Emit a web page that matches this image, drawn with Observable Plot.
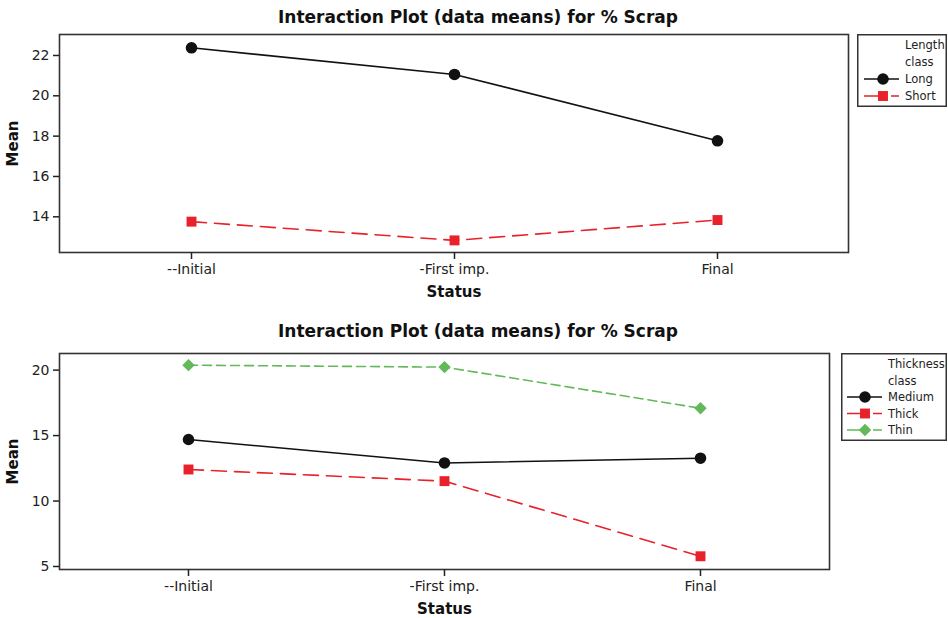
<!DOCTYPE html>
<html>
<head>
<meta charset="utf-8">
<script src="https://cdn.jsdelivr.net/npm/d3@7"></script>
<script src="https://cdn.jsdelivr.net/npm/@observablehq/plot@0.6"></script>
<style>
  html, body { margin: 0; padding: 0; background: #fff; }
  #wrap { position: relative; width: 948px; height: 618px; overflow: hidden; font-family: "DejaVu Sans", sans-serif; }
  .panel { position: absolute; left: 0; }
  .title { position: absolute; left: 478px; transform: translateX(-50%); white-space: nowrap;
           font-weight: bold; font-size: 17px; color: #111; }
  .legend { position: absolute; }
  svg g[aria-label="x-axis label"] text, svg g[aria-label="y-axis label"] text { font-weight: bold; font-size: 15px; fill: #111; }
</style>
</head>
<body>
<div id="wrap"></div>
<script>
// ---- data ----
const statuses = ["--Initial", "-First imp.", "Final"];
const titleText = "Interaction Plot (data means) for % Scrap";

const lengthClasses = ["Long", "Short"];
const longMeans = [22.38, 21.06, 17.77];
const shortMeans = [13.76, 12.83, 13.84];
const topTicks = [14, 16, 18, 20, 22];

const thicknessClasses = ["Medium", "Thick", "Thin"];
const mediumMeans = [14.70, 12.91, 13.27];
const thickMeans = [12.41, 11.52, 5.78];
const thinMeans = [20.38, 20.23, 17.09];
const bottomTicks = [5, 10, 15, 20];

// ---- styles ----
const BLACK = "#111", RED = "#e8212b", GREEN = "#63b95a";
const styleOf = {
  Long:   {color: BLACK, dash: null, symbol: "circle", r: 5.8},
  Short:  {color: RED, dash: "15,8", symbol: "square", r: 5.6},
  Medium: {color: BLACK, dash: null, symbol: "circle", r: 5.8},
  Thick:  {color: RED, dash: "15,8", symbol: "square", r: 5.6},
  Thin:   {color: GREEN, dash: "9,5", symbol: "diamond2", r: 5.6}
};

const wrap = document.getElementById("wrap");

function rowsFor(classes, valueLists) {
  return classes.map((c, i) => ({cls: c, rows: statuses.map((s, j) => ({status: s, mean: valueLists[i][j], cls: c}))}));
}

function panel({top, height, marginTop, marginBottom, marginRight, domain, ticks, groups}) {
  const marks = [
    Plot.frame({stroke: "#333", strokeWidth: 1.6}),
    Plot.axisY({ticks, tickSize: 6, tickPadding: 4, strokeWidth: 1.5, fontSize: 14, fill: "#222",
                label: "Mean", labelAnchor: "center", labelArrow: "none", labelOffset: 52}),
    Plot.axisX({tickSize: 7, tickPadding: 5, strokeWidth: 1.5, fontSize: 14, fill: "#222",
                label: "Status", labelAnchor: "center", labelArrow: "none", labelOffset: 44})
  ];
  for (const g of groups) {
    const st = styleOf[g.cls];
    marks.push(Plot.line(g.rows, {x: "status", y: "mean", stroke: st.color, strokeWidth: 1.6, strokeDasharray: st.dash || undefined}));
    marks.push(Plot.dot(g.rows, {x: "status", y: "mean", symbol: () => st.symbol, r: st.r, fill: st.color, stroke: "none"}));
  }
  const chart = Plot.plot({
    width: 948, height, marginLeft: 59, marginRight, marginTop, marginBottom,
    x: {type: "point", domain: statuses, padding: 0.5},
    y: {domain},
    symbol: {type: "identity"},
    style: {fontFamily: "DejaVu Sans, sans-serif", fontSize: "14px", color: "#222", background: "transparent", overflow: "visible"},
    marks
  });
  chart.classList.add("panel");
  chart.style.top = top + "px";
  wrap.appendChild(chart);
}

function title(y) {
  const d = document.createElement("div");
  d.className = "title";
  d.textContent = titleText;
  d.style.top = y + "px";
  wrap.appendChild(d);
}

function legend({left, top, width, height, heading, classes, textX, firstRow, rowStep, swatchX0, swatchX1, markerX}) {
  const svg = d3.create("svg").attr("class", "legend").attr("width", width).attr("height", height)
    .style("left", left + "px").style("top", top + "px")
    .style("font-family", "DejaVu Sans, sans-serif").style("font-size", "11.5px");
  svg.append("rect").attr("x", 0.75).attr("y", 0.75).attr("width", width - 1.5).attr("height", height - 1.5)
    .attr("fill", "#fff").attr("stroke", "#333").attr("stroke-width", 1.5);
  const lines = [...heading, ...classes];
  lines.forEach((t, i) => {
    const cy = firstRow + i * rowStep;
    svg.append("text").attr("x", textX).attr("y", cy).attr("dy", "0.35em").attr("fill", "#222").text(t);
    if (i >= heading.length) {
      const st = styleOf[t];
      const solid = markerX - swatchX0;
      svg.append("line").attr("x1", swatchX0).attr("x2", swatchX1).attr("y1", cy).attr("y2", cy)
        .attr("stroke", st.color).attr("stroke-width", 1.5)
        .attr("stroke-dasharray", st.dash ? `${solid},8,20` : null);
      const sym = {circle: d3.symbolCircle, square: d3.symbolSquare, diamond2: d3.symbolDiamond2}[st.symbol];
      svg.append("path").attr("transform", `translate(${markerX},${cy})`)
        .attr("d", d3.symbol(sym, Math.PI * st.r * st.r)()).attr("fill", st.color);
    }
  });
  wrap.appendChild(svg.node());
}

// top panel
title(7);
panel({top: 0, height: 310, marginTop: 34, marginBottom: 58, marginRight: 100,
       domain: [12.23, 23.04], ticks: topTicks,
       groups: rowsFor(lengthClasses, [longMeans, shortMeans])});
legend({left: 857, top: 34, width: 90, height: 73, heading: ["Length", "class"], classes: lengthClasses,
        textX: 48, firstRow: 11, rowStep: 17, swatchX0: 7, swatchX1: 42, markerX: 26});

// bottom panel
title(321);
panel({top: 310, height: 308, marginTop: 43, marginBottom: 49, marginRight: 119,
       domain: [4.77, 21.27], ticks: bottomTicks,
       groups: rowsFor(thicknessClasses, [mediumMeans, thickMeans, thinMeans])});
legend({left: 841, top: 353, width: 106, height: 88, heading: ["Thickness", "class"], classes: thicknessClasses,
        textX: 47, firstRow: 11, rowStep: 16.5, swatchX0: 6, swatchX1: 41, markerX: 24});
</script>
</body>
</html>
